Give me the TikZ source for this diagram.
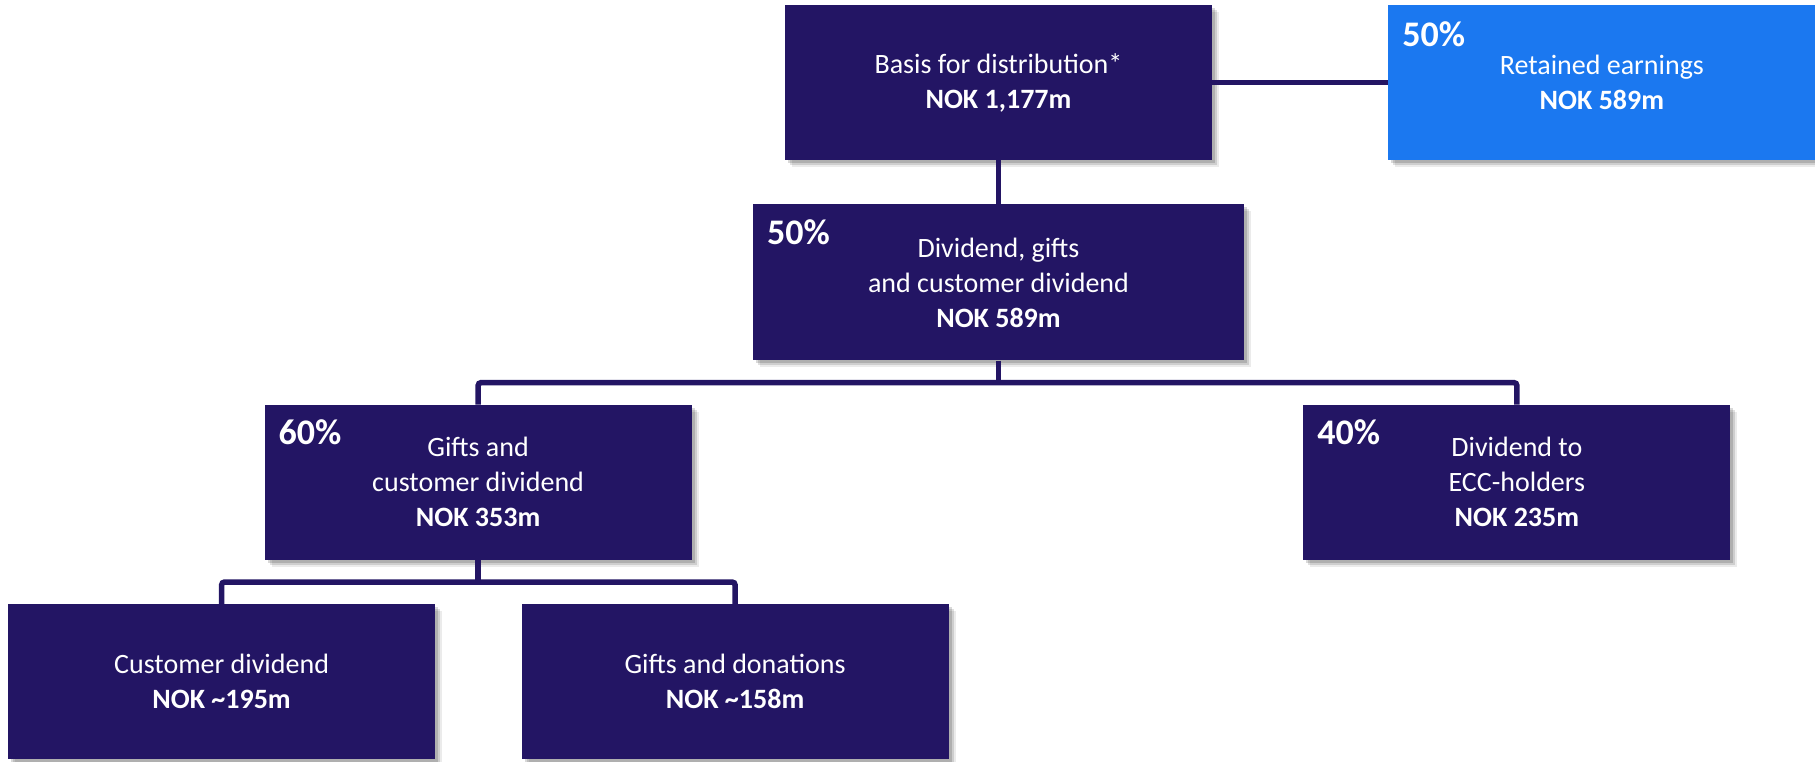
\documentclass[tikz,border=0pt]{standalone}
\usepackage{fontspec}
\setmainfont{Carlito}
\usetikzlibrary{positioning,shadows}
\definecolor{navy}{RGB}{35,21,100}
\definecolor{skyblue}{RGB}{27,120,240}

\begin{document}
\begin{tikzpicture}[
  x=1pt, y=-1pt,
  font=\fontsize{28}{35}\selectfont,
  node distance=44pt and 176pt,
  box/.style={fill=navy, text=white, minimum width=427pt, minimum height=155pt, align=center, inner sep=0pt,
    drop shadow={shadow xshift=7pt, shadow yshift=-7pt, fill=black, opacity=0.08},
    drop shadow={shadow xshift=5pt, shadow yshift=-5pt, fill=black, opacity=0.12},
    drop shadow={shadow xshift=3pt, shadow yshift=-3pt, fill=black, opacity=0.15}},
  pct/.style={text=white, font=\fontsize{36}{40}\selectfont\bfseries, inner sep=0pt, anchor=base west},
  link/.style={draw=navy, line width=5.5pt, rounded corners=3pt}
]
\useasboundingbox (0,0) rectangle (1815,761);

\node[box] (basis) at (998.5,82.5) {Basis for distribution*\\\textbf{NOK 1,177m}};
\node[box, fill=skyblue, right=of basis] (retained) {Retained earnings\\\textbf{NOK 589m}};
\node[box, minimum width=491pt, minimum height=156pt, below=of basis] (div) {Dividend, gifts\\and customer dividend\\\textbf{NOK 589m}};
\node[box, below left=44pt and 61pt of div] (gifts) {Gifts and\\customer dividend\\\textbf{NOK 353m}};
\node[box, below right=44pt and 59pt of div] (ecc) {Dividend to\\ECC-holders\\\textbf{NOK 235m}};
\node[box, below=of gifts, xshift=-256.5pt] (customer) {Customer dividend\\\textbf{NOK \textasciitilde195m}};
\node[box, below=of gifts, xshift=257pt] (donations) {Gifts and donations\\\textbf{NOK \textasciitilde158m}};

% percentages
\node[pct] (retainedpct) at ([shift={(14pt,-42pt)}]retained.north west) {50\%};
\node[pct] (divpct) at ([shift={(14pt,-40pt)}]div.north west) {50\%};
\node[pct] (giftspct) at ([shift={(14pt,-40pt)}]gifts.north west) {60\%};
\node[pct] (eccpct) at ([shift={(14pt,-40pt)}]ecc.north west) {40\%};

% connectors
\coordinate (busA) at ([yshift=-22pt]div.south);
\coordinate (busB) at ([yshift=-22pt]gifts.south);
\draw[link] (basis.east) -- (retained.west);
\draw[link] (basis.south) -- (div.north);
\draw[link] (div.south) -- (busA);
\draw[link] (gifts.north) |- (busA) -| (ecc.north);
\draw[link] (gifts.south) -- (busB);
\draw[link] (customer.north) |- (busB) -| (donations.north);

\end{tikzpicture}
\end{document}
